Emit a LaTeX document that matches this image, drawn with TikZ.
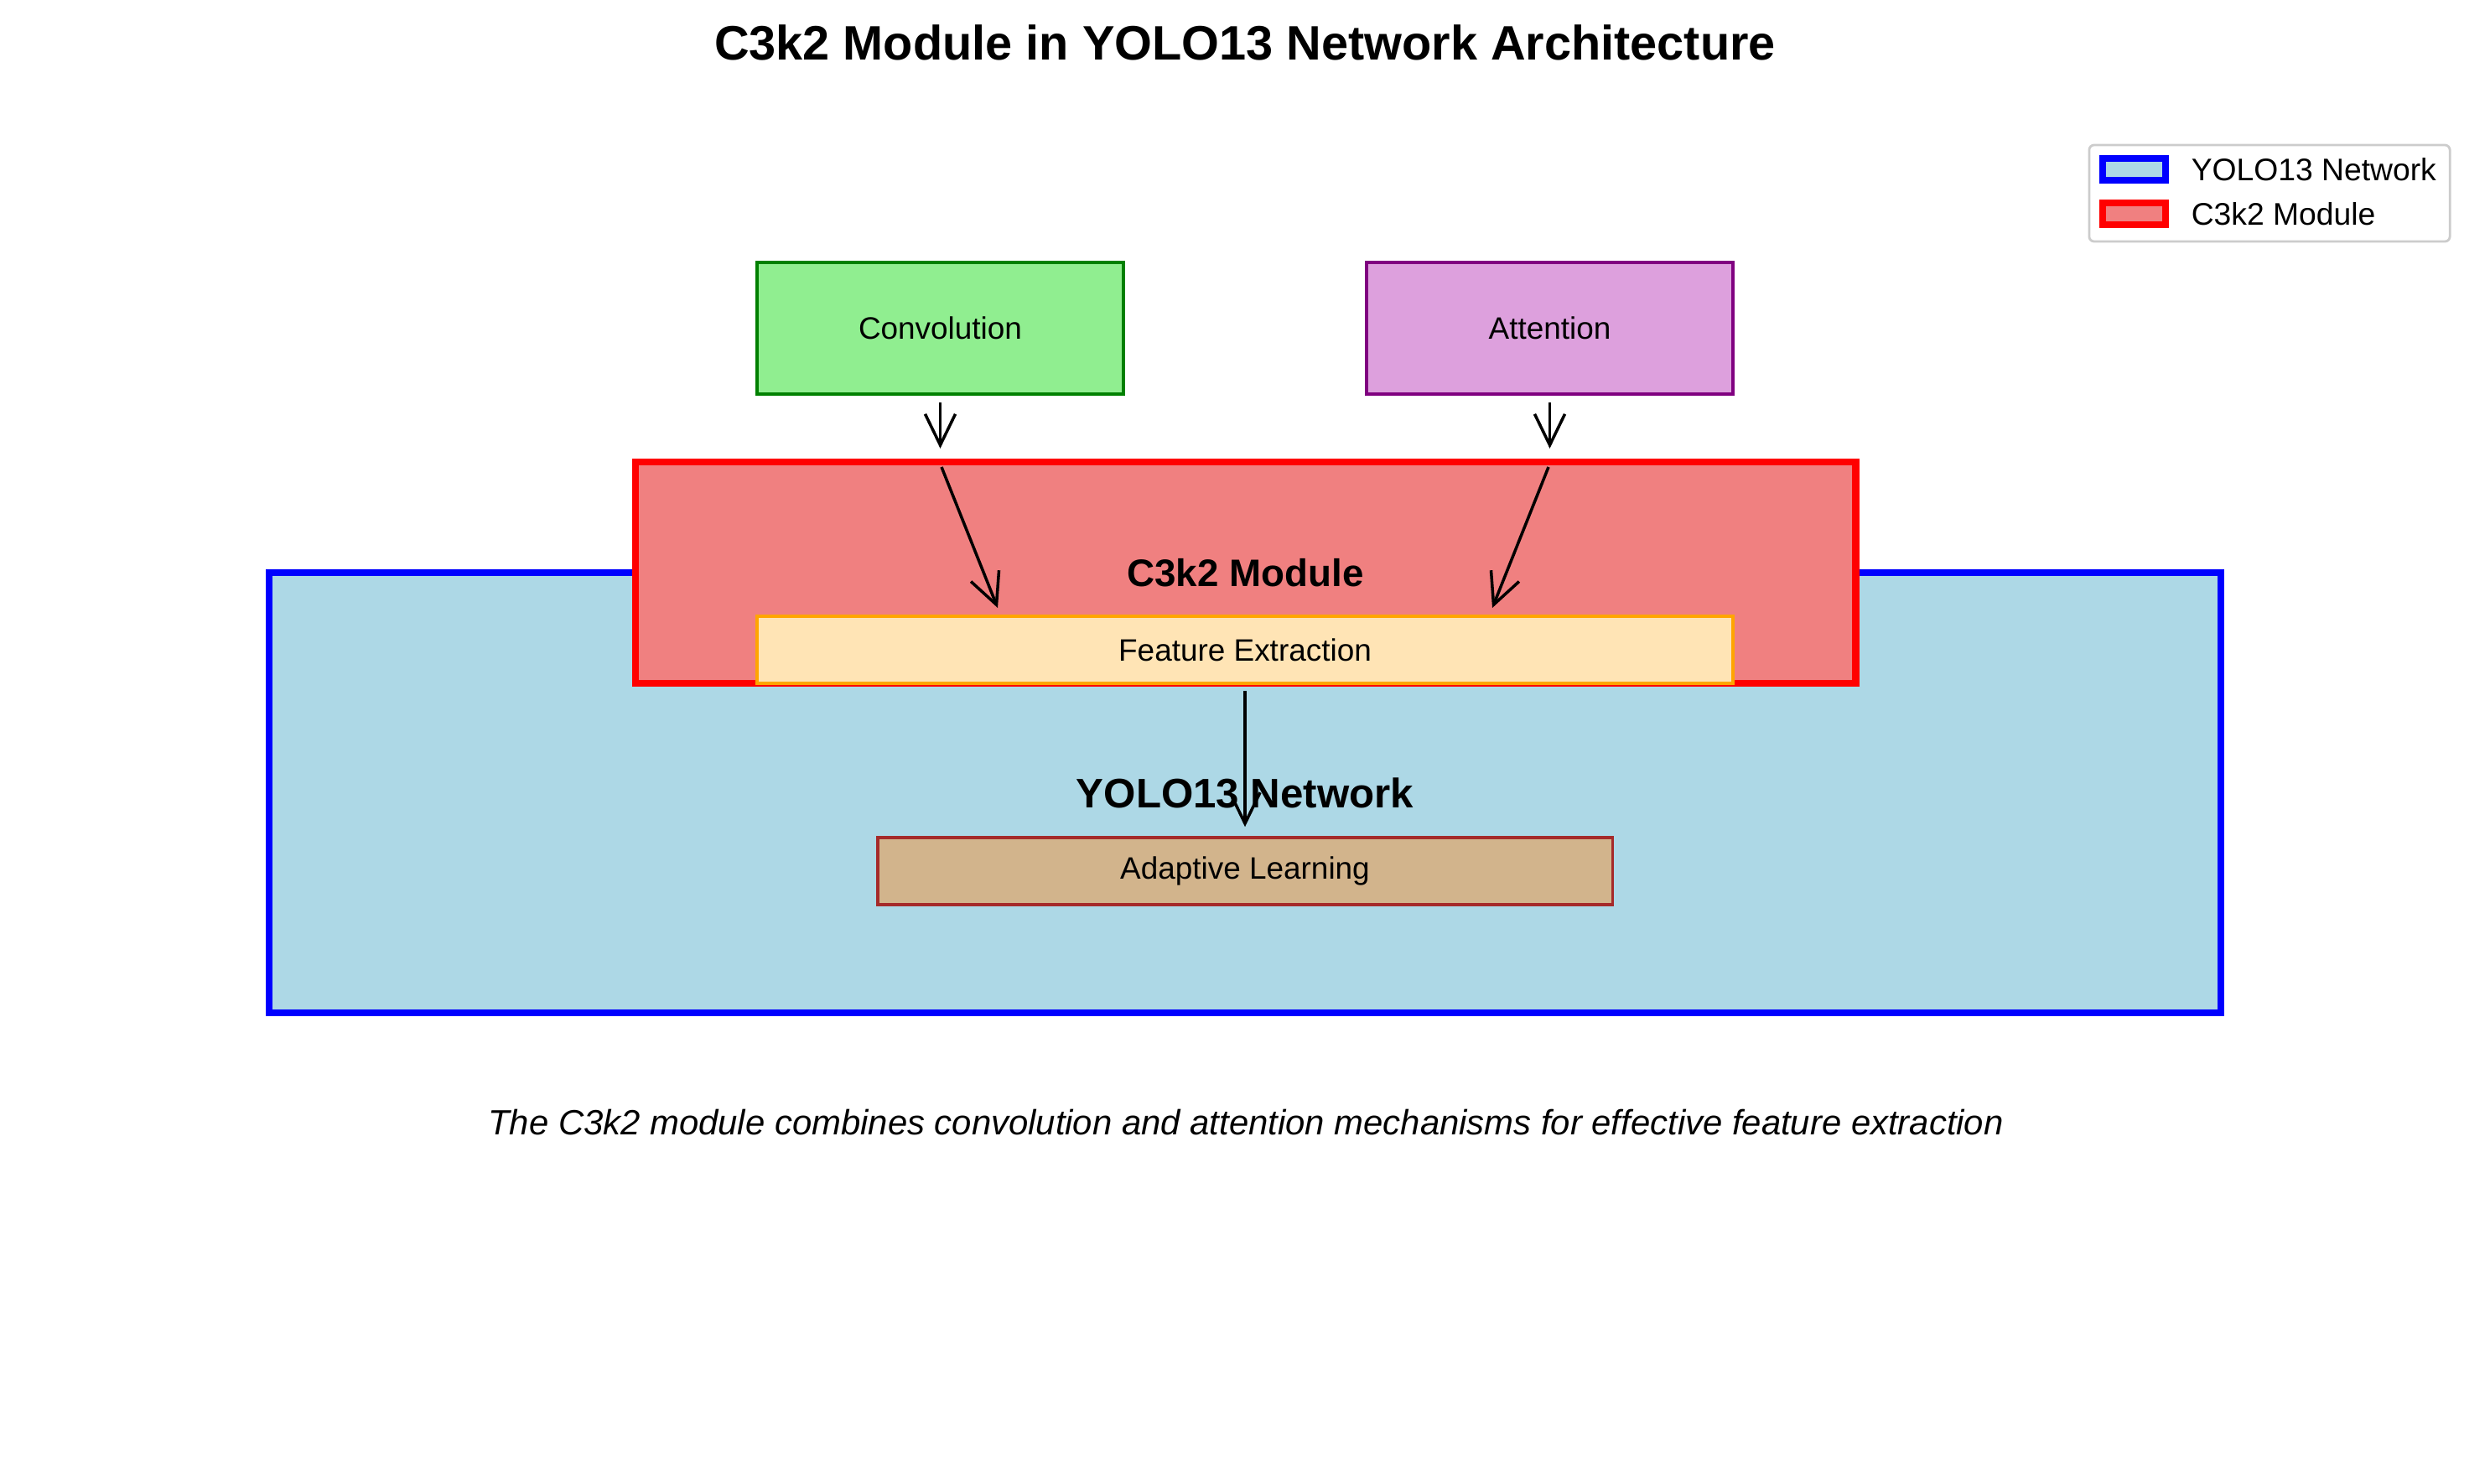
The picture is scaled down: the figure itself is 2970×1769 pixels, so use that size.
\documentclass[tikz,border=0pt]{standalone}
\usepackage{fontspec}
\setmainfont{Liberation Sans}
\usetikzlibrary{arrows.meta}
\definecolor{lightblue}{HTML}{ADD8E6}
\definecolor{lightcoral}{HTML}{F08080}
\definecolor{lightgreen}{HTML}{90EE90}
\definecolor{plum}{HTML}{DDA0DD}
\definecolor{mplgreen}{HTML}{008000}
\definecolor{mplpurple}{HTML}{800080}
\definecolor{moccasin}{HTML}{FFE4B5}
\definecolor{mplorange}{HTML}{FFA500}
\definecolor{mpltan}{HTML}{D2B48C}
\definecolor{mplbrown}{HTML}{A52A2A}
\begin{document}
\begin{tikzpicture}[x=0.01cm,y=-0.01cm]
\tikzstyle{every node}+=[inner sep=0pt]
\tikzstyle{big}=[draw,rectangle,line width=2.3pt,font=\fontsize{13}{15}\selectfont\bfseries]
\tikzstyle{box}=[draw,rectangle,line width=1.2pt,font=\fontsize{10.5}{12}\selectfont]
\tikzstyle{flow}=[-{Straight Barb[length=0.37cm,width=0.36cm]},line width=1pt]
\useasboundingbox (0,0) rectangle (2970,1769);
\node[font=\fontsize{16.4}{19}\selectfont\bfseries,anchor=base] (title) at (1485,71) {C3k2 Module in YOLO13 Network Architecture};
\node[big,fill=lightblue,draw=blue,font=\fontsize{14}{16}\selectfont\bfseries,minimum width=23.27cm,minimum height=5.25cm] (net) at (1485,945.5) {YOLO13 Network};
\node[big,fill=lightcoral,draw=red,minimum width=14.55cm,minimum height=2.64cm] (mod) at (1485.5,683) {C3k2 Module};
\node[box,fill=moccasin,draw=mplorange,minimum width=11.64cm,minimum height=0.80cm] (feat) at (1485,775) {Feature Extraction};
\node[box,fill=lightgreen,draw=mplgreen,minimum width=4.37cm,minimum height=1.57cm] (conv) at (1121.5,391.5) {Convolution};
\node[box,fill=plum,draw=mplpurple,minimum width=4.37cm,minimum height=1.57cm] (attn) at (1848.5,391.5) {Attention};
\node[box,fill=mpltan,draw=mplbrown,line width=1pt,minimum width=8.76cm,minimum height=0.80cm] (adapt) at (1485,1039) {Adaptive Learning};
\draw[flow,shorten <=0.08cm,shorten >=0.12cm] (conv.south) -- (conv.south |- mod.north);
\draw[flow,shorten <=0.08cm,shorten >=0.12cm] (attn.south) -- (attn.south |- mod.north);
\coordinate (convin) at (1123,557);
\coordinate (convout) at (1190,725);
\coordinate (attnin) at (1847,557);
\coordinate (attnout) at (1780,725);
\draw[flow] (convin) -- (convout);
\draw[flow] (attnin) -- (attnout);
\draw[flow,shorten <=0.07cm,shorten >=0.11cm] (feat.south) -- (adapt.north);
\node[font=\fontsize{11.9}{14}\selectfont\itshape,anchor=base] (caption) at (1486,1353) {The C3k2 module combines convolution and attention mechanisms for effective feature extraction};
\node[draw=black!20,fill=white,rounded corners=0.06cm,line width=0.8pt,minimum width=4.30cm,minimum height=1.15cm] (legend) at (2707,230.5) {};
\node[draw=blue,fill=lightblue,line width=2.3pt,minimum width=0.75cm,minimum height=0.26cm] (keynet) at (2545.5,202) {};
\node[draw=red,fill=lightcoral,line width=2.3pt,minimum width=0.75cm,minimum height=0.26cm] (keymod) at (2545.5,255) {};
\node[anchor=west,font=\fontsize{10.6}{12}\selectfont] (keynettext) at ([xshift=0.26cm]keynet.east) {YOLO13 Network};
\node[anchor=west,font=\fontsize{10.6}{12}\selectfont] (keymodtext) at ([xshift=0.26cm]keymod.east) {C3k2 Module};
\end{tikzpicture}
\end{document}
